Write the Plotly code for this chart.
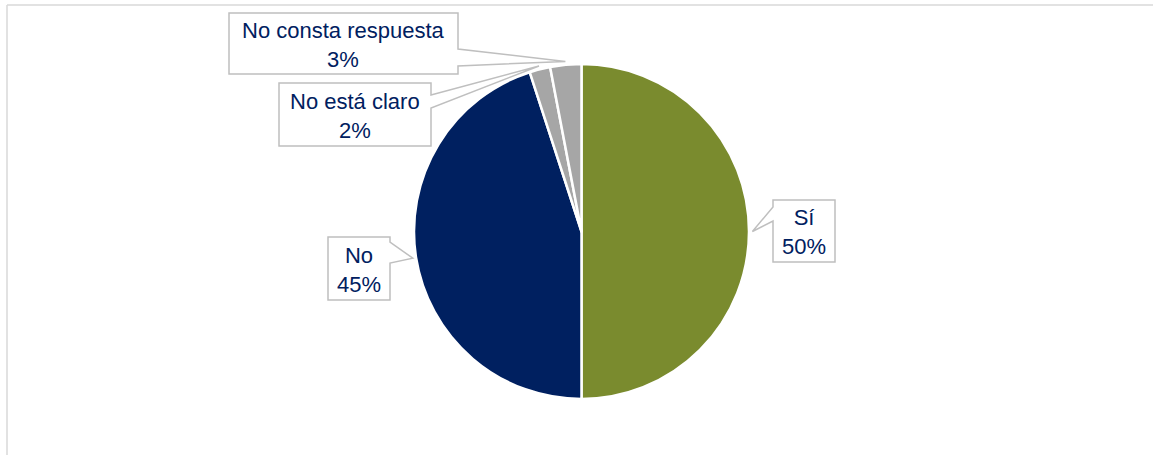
import math
import plotly.graph_objects as go

labels = ["Sí", "No", "No está claro", "No consta respuesta"]
values = [50, 45, 2, 3]
colors = ["#7A8B2E", "#002060", "#A6A6A6", "#A6A6A6"]

W, H = 1153, 455
cx, cy, R = 581.5, 231.5, 167.5

# callout boxes in pixel coordinates: rect (x0, y0, x1, y1), side of the pointer, pointer base (y_a, y_b)
callouts = [
    dict(rect=(773, 200, 835, 262), side="left", base=(207, 221)),
    dict(rect=(328, 237, 390, 300), side="right", base=(242, 263)),
    dict(rect=(279, 83, 431, 146), side="right", base=(95, 108)),
    dict(rect=(229, 13, 458, 74), side="right", base=(49, 66)),
]
TXT = "#002060"
LINE = "#BFBFBF"

fig = go.Figure()
fig.add_trace(go.Pie(
    labels=labels, values=values, sort=False, direction="clockwise", rotation=0,
    marker=dict(colors=colors, line=dict(color="white", width=2.5)),
    textinfo="none", hoverinfo="skip", showlegend=False,
    domain=dict(x=[(cx - R) / W, (cx + R) / W], y=[(H - cy - R) / H, (H - cy + R) / H]),
))

total = sum(values)
cum = 0
shapes = []
annotations = []
for lab, v, c in zip(labels, values, callouts):
    mid = (cum + v / 2) / total * 2 * math.pi
    cum += v
    tx = cx + R * 1.02 * math.sin(mid)
    ty = cy - R * 1.02 * math.cos(mid)
    x0, y0, x1, y1 = c["rect"]
    ya, yb = c["base"]
    if c["side"] == "left":
        pts = [(x0, y0), (x1, y0), (x1, y1), (x0, y1), (x0, yb), (tx, ty), (x0, ya)]
    else:
        pts = [(x0, y0), (x1, y0), (x1, ya), (tx, ty), (x1, yb), (x1, y1), (x0, y1)]
    path = "M " + " L ".join(f"{px:.1f},{py:.1f}" for px, py in pts) + " Z"
    shapes.append(dict(type="path", path=path, xref="x", yref="y",
                       fillcolor="white", line=dict(color=LINE, width=1.5), layer="above"))
    pct = round(v / total * 100)
    annotations.append(dict(x=(x0 + x1) / 2, y=(y0 + y1) / 2 + 1, xref="x", yref="y",
                            text=f"{lab}<br>{pct}%", showarrow=False,
                            font=dict(family="Liberation Sans, Arial, sans-serif", size=22, color=TXT),
                            xanchor="center", yanchor="middle", align="center"))

# chart area border (top and left)
shapes.append(dict(type="line", xref="x", yref="y", x0=7, y0=5, x1=W, y1=5,
                   line=dict(color="#D9D9D9", width=1.5), layer="above"))
shapes.append(dict(type="line", xref="x", yref="y", x0=7, y0=5, x1=7, y1=H,
                   line=dict(color="#D9D9D9", width=1.5), layer="above"))

fig.update_layout(
    width=W, height=H, margin=dict(l=0, r=0, t=0, b=0),
    paper_bgcolor="white", plot_bgcolor="rgba(0,0,0,0)",
    xaxis=dict(range=[0, W], visible=False, fixedrange=True, domain=[0, 1]),
    yaxis=dict(range=[H, 0], visible=False, fixedrange=True, domain=[0, 1]),
    shapes=shapes, annotations=annotations,
)

fig.write_html("out.html", config={"displayModeBar": False},
               post_script="document.body.style.margin='0';document.body.style.overflow='hidden';")
